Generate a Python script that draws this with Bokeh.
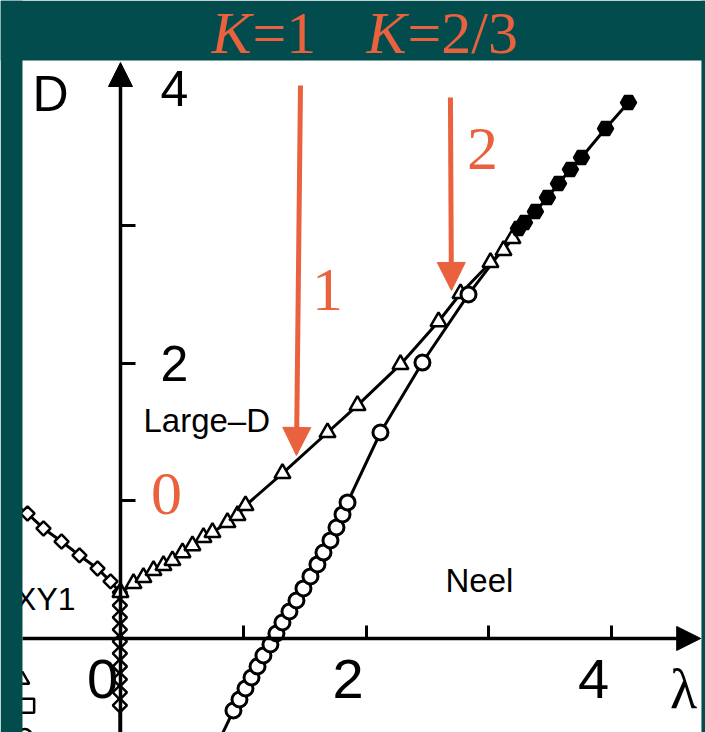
from math import pi
from bokeh.plotting import figure
from bokeh.models import Range1d, LinearAxis, FixedTicker, Arrow, NormalHead, Label, BoxAnnotation
from bokeh.core.properties import value
from bokeh.embed import file_html
from bokeh.resources import INLINE

# ---------------- data ----------------
# XY1 / Large-D boundary (open diamonds)
xy1_lam = [-0.90, -0.757, -0.627, -0.480, -0.334, -0.187, -0.081, -0.005,
           -0.005, -0.005, -0.005, -0.005, -0.005, -0.005, -0.005, -0.005, -0.005]
xy1_D = [1.00, 0.909, 0.800, 0.705, 0.604, 0.509, 0.415, 0.335,
         0.240, 0.153, 0.065, -0.022, -0.109, -0.204, -0.298, -0.393, -0.487]
xy1_tail_lam = [-0.005, -0.005]
xy1_tail_D = [-0.487, -0.80]

# Large-D / Neel boundary (open triangles)
ld_lam = [0.0, 0.106, 0.187, 0.269, 0.350, 0.423, 0.505, 0.586, 0.676, 0.749, 0.871,
          0.953, 1.018, 1.319, 1.686, 1.930, 2.280, 2.590, 2.769, 3.013, 3.119, 3.192]
ld_D = [0.335, 0.400, 0.444, 0.495, 0.531, 0.567, 0.625, 0.676, 0.735, 0.771, 0.844,
        0.895, 0.967, 1.200, 1.498, 1.695, 1.993, 2.305, 2.509, 2.735, 2.822, 2.909]

# Neel boundary (open circles)
neel_lam = [0.920, 0.969, 1.018, 1.067, 1.116, 1.164, 1.221, 1.270, 1.319, 1.376, 1.433,
            1.490, 1.547, 1.604, 1.653, 1.710, 1.759, 1.808, 1.849, 2.117, 2.459, 2.834]
neel_D = [-0.524, -0.444, -0.364, -0.284, -0.204, -0.124, -0.044, 0.036, 0.116, 0.196, 0.276,
          0.364, 0.451, 0.538, 0.625, 0.713, 0.807, 0.902, 0.989, 1.498, 2.007, 2.502]
neel_tail_lam = [0.920, 0.80]
neel_tail_D = [-0.524, -0.75]

# multicritical line (filled circles)
mc_lam = [3.241, 3.290, 3.379, 3.477, 3.567, 3.664, 3.754, 3.950, 4.137]
mc_D = [2.982, 3.025, 3.105, 3.207, 3.309, 3.411, 3.498, 3.709, 3.898]

# partly hidden markers at the left edge of the panel
edge_lam = [-0.80, -0.76, -0.78]
edge_D = [-0.30, -0.49, -0.71]
edge_marker = ["triangle", "square", "circle"]

# ticks and tick labels
x_ticks = [1, 2, 3, 4]
x_label_vals = [0, 2, 4]
x_label_text = ["0", "2", "4"]
y_ticks = [1, 2, 3]
y_label_vals = [2, 4]
y_label_text = ["2", "4"]

# K arrows (orange) and their numbers
arrow_lam_start = [1.466, 2.687]
arrow_D_start = [4.022, 3.935]
arrow_lam_end = [1.433, 2.695]
arrow_D_end = [1.331, 2.531]
num_lam = [0.375, 1.686, 2.948]
num_D = [1.051, 2.531, 3.560]
num_text = ["0", "1", "2"]

# phase names
phase_text = ["Large\u2013D", "Neel"]
phase_lam = [0.187, 2.647]
phase_D = [1.585, 0.418]
xy_text = ["XY1"]
xy_lam = [-0.366]
xy_D = [0.287]

# title pieces
title_K_lam = [0.741, 2.003]
title_rest_lam = [1.075, 2.337]
title_rest = ["=1", "=2/3"]
title_D = 4.407

# axis names
D_name_pos = (-0.57, 3.96)
lam_name_pos = (4.585, -0.371)

# white panel edges (data units)
panel_left, panel_right, panel_top = -0.798, 4.731, 4.204

ORANGE = "#E9623D"
TEAL = "#034c4d"

p = figure(width=705, height=732,
           x_range=Range1d(-0.977, 4.764), y_range=Range1d(-0.684, 4.640),
           output_backend="svg", toolbar_location=None,
           x_axis_type=None, y_axis_type=None,
           min_border=0, min_border_left=0, min_border_right=0,
           min_border_top=0, min_border_bottom=0)
p.background_fill_color = "white"
p.border_fill_color = TEAL
p.outline_line_color = None

# axes crossing at the origin
xaxis = LinearAxis(fixed_location=0, ticker=FixedTicker(ticks=x_ticks),
                   bounds=(panel_left, 4.70),
                   axis_line_width=3.5, axis_line_color="black",
                   major_tick_in=13, major_tick_out=0, major_tick_line_width=3,
                   minor_tick_in=0, minor_tick_out=0,
                   major_label_overrides={t: "" for t in x_ticks})
yaxis = LinearAxis(fixed_location=0, ticker=FixedTicker(ticks=y_ticks),
                   bounds=(-0.684, 4.15),
                   axis_line_width=3.5, axis_line_color="black",
                   major_tick_in=15, major_tick_out=0, major_tick_line_width=3,
                   minor_tick_in=0, minor_tick_out=0,
                   major_label_overrides={t: "" for t in y_ticks})
p.add_layout(xaxis, "below")
p.add_layout(yaxis, "left")

LW = 3
p.line(xy1_lam, xy1_D, line_color="black", line_width=LW)
p.line(xy1_tail_lam, xy1_tail_D, line_color="black", line_width=LW)
p.line(ld_lam, ld_D, line_color="black", line_width=LW)
p.line(neel_lam + mc_lam, neel_D + mc_D, line_color="black", line_width=LW)
p.line(neel_tail_lam, neel_tail_D, line_color="black", line_width=LW)

p.scatter(xy1_lam, xy1_D, marker="square", angle=pi / 4, size=10, fill_color="white",
          line_color="black", line_width=2.5)
p.scatter(ld_lam, ld_D, marker="triangle", size=16, fill_color="white",
          line_color="black", line_width=2.5)
p.scatter(neel_lam, neel_D, marker="circle", size=15, fill_color="white",
          line_color="black", line_width=3)
p.scatter(mc_lam, mc_D, marker="hex", size=16, fill_color="black",
          line_color="black", line_width=1.5)
p.scatter(edge_lam, edge_D, marker=edge_marker, size=14, fill_color="white",
          line_color="black", line_width=2.5)

p.text(xy_lam, xy_D, text=xy_text, text_font=value("Liberation Sans"),
       text_font_size="32px", text_color="black", text_align="right",
       text_baseline="middle")

# teal surround of the white panel
for kw in ({"right": panel_left}, {"bottom": panel_top}, {"left": panel_right}):
    p.add_layout(BoxAnnotation(fill_color=TEAL, fill_alpha=1, line_color=None, **kw))

# axis arrow heads
p.add_layout(Arrow(end=NormalHead(size=24, fill_color="black", line_color="black"),
                   x_start=0, y_start=3.9, x_end=0, y_end=4.189, line_color=None))
p.add_layout(Arrow(end=NormalHead(size=24, fill_color="black", line_color="black"),
                   x_start=4.4, y_start=0, x_end=4.725, y_end=0, line_color=None))

# orange K arrows
for xs, ys, xe, ye in zip(arrow_lam_start, arrow_D_start, arrow_lam_end, arrow_D_end):
    p.add_layout(Arrow(end=NormalHead(size=28, fill_color=ORANGE, line_color=ORANGE),
                       x_start=xs, y_start=ys, x_end=xe, y_end=ye,
                       line_color=ORANGE, line_width=5))
for x, y, t in zip(num_lam, num_D, num_text):
    p.add_layout(Label(x=x, y=y, text=t, text_font="Liberation Serif",
                       text_font_size="62px", text_color=ORANGE,
                       text_align="center", text_baseline="middle"))

# title: K=1   K=2/3
for xk, xr, t in zip(title_K_lam, title_rest_lam, title_rest):
    p.add_layout(Label(x=xk, y=title_D, text="K", text_font="Liberation Serif",
                       text_font_style="italic", text_font_size="60px",
                       text_color=ORANGE, text_align="left", text_baseline="middle"))
    p.add_layout(Label(x=xr, y=title_D, text=t, text_font="Liberation Serif",
                       text_font_size="60px", text_color=ORANGE,
                       text_align="left", text_baseline="middle"))

# tick labels
for v, t in zip(x_label_vals, x_label_text):
    p.add_layout(Label(x=v, y=0, text=t, x_offset=-18, y_offset=-41,
                       text_font="Liberation Sans", text_font_size="56px",
                       text_color="black", text_align="center", text_baseline="middle"))
for v, t in zip(y_label_vals, y_label_text):
    p.add_layout(Label(x=0, y=v, text=t, x_offset=40, y_offset=0,
                       text_font="Liberation Sans", text_font_size="50px",
                       text_color="black", text_align="left", text_baseline="middle"))

# axis names
p.add_layout(Label(x=D_name_pos[0], y=D_name_pos[1], text="D",
                   text_font="Liberation Sans", text_font_size="50px",
                   text_color="black", text_align="center", text_baseline="middle"))
p.add_layout(Label(x=lam_name_pos[0], y=lam_name_pos[1], text="\u03bb",
                   text_font="Liberation Serif", text_font_size="56px",
                   text_color="black", text_align="center", text_baseline="middle"))

# phase names
for t, x, y in zip(phase_text, phase_lam, phase_D):
    p.add_layout(Label(x=x, y=y, text=t, text_font="Liberation Sans",
                       text_font_size="33px", text_color="black",
                       text_align="left", text_baseline="middle"))

open("out.html", "w").write(file_html(p, INLINE))
